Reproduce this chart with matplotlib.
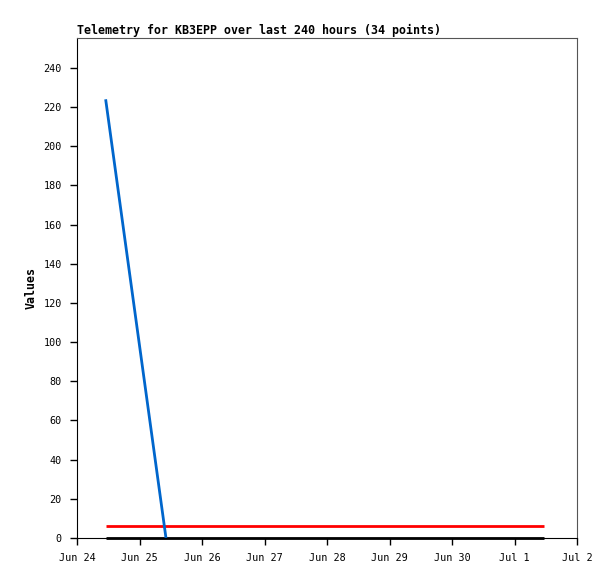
import matplotlib
matplotlib.use("Agg")
import matplotlib.pyplot as plt
import matplotlib.dates as mdates
from datetime import datetime

blue_times = ["2024-06-24 11:00", "2024-06-25 10:10"]
blue_values = [224, 0]
red_times = ["2024-06-24 11:00", "2024-07-01 11:15"]
red_values = [6, 6]
black_times = ["2024-06-24 11:00", "2024-07-01 11:15"]
black_values = [0, 0]
x_ticks = ["2024-06-24", "2024-06-25", "2024-06-26", "2024-06-27", "2024-06-28",
           "2024-06-29", "2024-06-30", "2024-07-01", "2024-07-02"]
x_tick_labels = ["Jun 24", "Jun 25", "Jun 26", "Jun 27", "Jun 28", "Jun 29", "Jun 30", "Jul 1", "Jul 2"]
y_ticks = list(range(0, 241, 20))

def p(s):
    fmt = "%Y-%m-%d %H:%M" if " " in s else "%Y-%m-%d"
    return datetime.strptime(s, fmt)

mono = ["DejaVu Sans Mono"]
fig = plt.figure(figsize=(6.15, 5.79), dpi=100)
ax = fig.add_axes([77/615, 41/579, 500/615, 500/579])

ax.plot([p(t) for t in black_times], black_values, color="#000000", lw=2, solid_capstyle="butt", clip_on=False)
ax.plot([p(t) for t in red_times], red_values, color="#ff0000", lw=2, solid_capstyle="butt")
ax.plot([p(t) for t in blue_times], blue_values, color="#0066cc", lw=2, solid_capstyle="butt")

ax.set_xlim(p(x_ticks[0]), p(x_ticks[-1]))
ax.set_ylim(0, 255.3)
ax.set_xticks([p(t) for t in x_ticks])
ax.set_xticklabels(x_tick_labels, family=mono, fontsize=7.3)
ax.set_yticks(y_ticks)
ax.set_yticklabels([str(v) for v in y_ticks], family=mono, fontsize=7.3)
ax.tick_params(direction="out", length=5, width=1, colors="black", pad=6)
ax.tick_params(axis="x", pad=6)
for s in ["top", "right"]:
    ax.spines[s].set_color("#555555")
for s in ["left", "bottom"]:
    ax.spines[s].set_color("black")

ax.set_ylabel("Values", family=mono, fontsize=8.4, fontweight="bold", labelpad=4)
ax.set_title("Telemetry for KB3EPP over last 240 hours (34 points)", family=mono,
             fontsize=8.4, fontweight="bold", loc="left", pad=3)

fig.savefig("out.png", dpi=100)
